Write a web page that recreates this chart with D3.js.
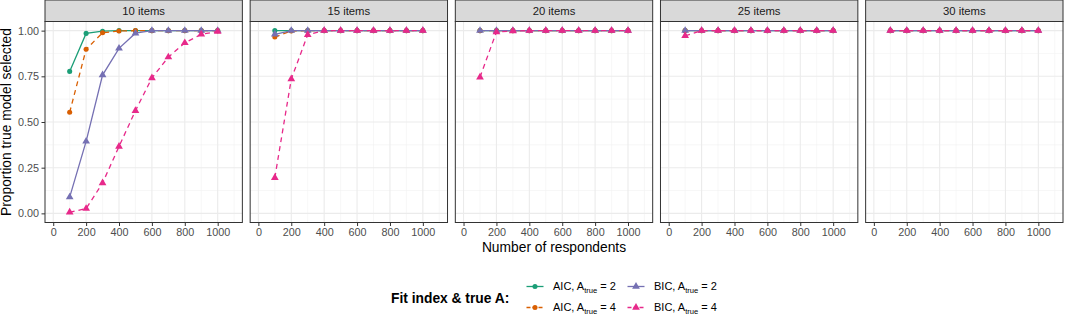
<!DOCTYPE html>
<html>
<head>
<meta charset="utf-8">
<script src="https://cdn.jsdelivr.net/npm/d3@7"></script>
<style>
  body { margin: 0; background: #fff; }
  text { font-family: "Liberation Sans", Arial, sans-serif; }
</style>
</head>
<body>
<div id="chart"></div>
<script>
// facets and x values
const itemCounts = [10, 15, 20, 25, 30];
const respondents = [100, 200, 300, 400, 500, 600, 700, 800, 900, 1000];
const xTicks = [0, 200, 400, 600, 800, 1000];
const yTicks = [0, 0.25, 0.5, 0.75, 1];

// proportion true model selected, one row per item count
const aic2 = [
  [0.777, 0.985, 0.997, 1, 1, 1, 1, 1, 1, 1],
  [1, 1, 1, 1, 1, 1, 1, 1, 1, 1],
  [1, 1, 1, 1, 1, 1, 1, 1, 1, 1],
  [1, 1, 1, 1, 1, 1, 1, 1, 1, 1],
  [1, 1, 1, 1, 1, 1, 1, 1, 1, 1]
];
const aic4 = [
  [0.553, 0.898, 0.988, 0.998, 1, 1, 1, 1, 1, 1],
  [0.965, 0.998, 1, 1, 1, 1, 1, 1, 1, 1],
  [1, 1, 1, 1, 1, 1, 1, 1, 1, 1],
  [1, 1, 1, 1, 1, 1, 1, 1, 1, 1],
  [1, 1, 1, 1, 1, 1, 1, 1, 1, 1]
];
const bic2 = [
  [0.089, 0.394, 0.757, 0.903, 0.986, 1, 1, 1, 1, 1],
  [0.98, 1, 1, 1, 1, 1, 1, 1, 1, 1],
  [1, 1, 1, 1, 1, 1, 1, 1, 1, 1],
  [1, 1, 1, 1, 1, 1, 1, 1, 1, 1],
  [1, 1, 1, 1, 1, 1, 1, 1, 1, 1]
];
const bic4 = [
  [0.006, 0.026, 0.166, 0.366, 0.562, 0.741, 0.855, 0.933, 0.98, 0.995],
  [0.195, 0.735, 0.978, 1, 1, 1, 1, 1, 1, 1],
  [0.745, 0.993, 0.998, 1, 1, 1, 1, 1, 1, 1],
  [0.972, 1, 1, 1, 1, 1, 1, 1, 1, 1],
  [1, 1, 1, 1, 1, 1, 1, 1, 1, 1]
];

const seriesNames = ['AIC', 'AIC', 'BIC', 'BIC'];
const seriesA = ['2', '4', '2', '4'];
const seriesColors = ['#1B9E77', '#D95F02', '#7570B3', '#E7298A'];
const seriesDash = [null, '5,4', null, '5,4'];
const seriesShape = ['circle', 'circle', 'triangle', 'triangle'];
const seriesValues = [aic2, aic4, bic2, bic4];

const W = 1065, H = 315;
const left = 45, right = 1063, gap = 7.8;
const stripTop = 0, stripH = 21.5, panelBottom = 222.5;
const panelW = (right - left - gap * (itemCounts.length - 1)) / itemCounts.length;

const svg = d3.select('#chart').append('svg')
  .attr('width', W).attr('height', H);

const x = d3.scaleLinear().domain([-50, 1150]).range([0, panelW]);
const y = d3.scaleLinear().domain([-0.05, 1.05]).range([panelBottom, stripH]);

const symbolFor = s => d3.symbol()
  .type(s === 'circle' ? d3.symbolCircle : d3.symbolTriangle)
  .size(s === 'circle' ? 20 : 26);

const line = d3.line().x(d => x(d[0])).y(d => y(d[1]));

itemCounts.forEach((items, pi) => {
  const g = svg.append('g')
    .attr('transform', `translate(${left + pi * (panelW + gap)},0)`);

  // background grid
  const minorX = d3.range(100, 1200, 200);
  const minorY = [0.125, 0.375, 0.625, 0.875];
  g.selectAll('.minx').data(minorX).enter().append('line')
    .attr('x1', d => x(d)).attr('x2', d => x(d))
    .attr('y1', stripH).attr('y2', panelBottom)
    .attr('stroke', '#F2F2F2').attr('stroke-width', 0.6);
  g.selectAll('.miny').data(minorY).enter().append('line')
    .attr('x1', 0).attr('x2', panelW)
    .attr('y1', d => y(d)).attr('y2', d => y(d))
    .attr('stroke', '#F2F2F2').attr('stroke-width', 0.6);
  g.selectAll('.majx').data(xTicks).enter().append('line')
    .attr('x1', d => x(d)).attr('x2', d => x(d))
    .attr('y1', stripH).attr('y2', panelBottom)
    .attr('stroke', '#EBEBEB').attr('stroke-width', 1.1);
  g.selectAll('.majy').data(yTicks).enter().append('line')
    .attr('x1', 0).attr('x2', panelW)
    .attr('y1', d => y(d)).attr('y2', d => y(d))
    .attr('stroke', '#EBEBEB').attr('stroke-width', 1.1);

  // series
  seriesValues.forEach((vals, si) => {
    const pts = respondents.map((r, i) => [r, vals[pi][i]]);
    g.append('path')
      .attr('d', line(pts))
      .attr('fill', 'none')
      .attr('stroke', seriesColors[si])
      .attr('stroke-width', 1.3)
      .attr('stroke-dasharray', seriesDash[si]);
    g.selectAll(null).data(pts).enter().append('path')
      .attr('d', symbolFor(seriesShape[si]))
      .attr('transform', d => `translate(${x(d[0])},${y(d[1])})`)
      .attr('fill', seriesColors[si]);
  });

  // panel border
  g.append('rect')
    .attr('x', 0).attr('y', stripH)
    .attr('width', panelW).attr('height', panelBottom - stripH)
    .attr('fill', 'none').attr('stroke', '#333').attr('stroke-width', 1);

  // strip
  g.append('rect')
    .attr('x', 0).attr('y', stripTop)
    .attr('width', panelW).attr('height', stripH - stripTop)
    .attr('fill', '#D9D9D9').attr('stroke', '#333').attr('stroke-width', 1);
  g.append('text')
    .attr('x', panelW / 2).attr('y', (stripTop + stripH) / 2)
    .attr('dy', '0.35em')
    .attr('text-anchor', 'middle')
    .attr('font-size', 11.3)
    .attr('fill', '#1A1A1A')
    .text(`${items} items`);

  // x axis
  const xAxis = g.append('g')
    .attr('transform', `translate(0,${panelBottom})`)
    .call(d3.axisBottom(x).tickValues(xTicks).tickSize(3.5).tickPadding(2.5).tickFormat(d3.format('d')));
  xAxis.select('.domain').remove();
  xAxis.selectAll('.tick line').attr('stroke', '#333');
  xAxis.selectAll('.tick text')
    .attr('font-size', 10.8).attr('fill', '#4D4D4D')
    .attr('font-family', '"Liberation Sans", Arial, sans-serif');

  // y axis only on first panel
  if (pi === 0) {
    const yAxis = g.append('g')
      .call(d3.axisLeft(y).tickValues(yTicks).tickSize(3.5).tickPadding(2.5).tickFormat(d3.format('.2f')));
    yAxis.select('.domain').remove();
    yAxis.selectAll('.tick line').attr('stroke', '#333');
    yAxis.selectAll('.tick text')
      .attr('font-size', 10.8).attr('fill', '#4D4D4D')
      .attr('font-family', '"Liberation Sans", Arial, sans-serif');
  }
});

// axis titles
svg.append('text')
  .attr('x', (left + right) / 2).attr('y', 252)
  .attr('text-anchor', 'middle')
  .attr('font-size', 13.8)
  .attr('fill', '#000')
  .text('Number of respondents');

svg.append('text')
  .attr('transform', `translate(11,${(stripH + panelBottom) / 2}) rotate(-90)`)
  .attr('text-anchor', 'middle')
  .attr('font-size', 13.8)
  .attr('fill', '#000')
  .text('Proportion true model selected');

// legend
const legend = svg.append('g');
legend.append('text')
  .attr('x', 391).attr('y', 298.5).attr('dy', '0.35em')
  .attr('font-size', 13.8).attr('font-weight', 'bold')
  .text('Fit index & true A:');

const keyCol = [535, 636];
const keyRow = [286.5, 307.5];
// ggplot fills legend column-wise: col 1 = AIC, col 2 = BIC
seriesNames.forEach((name, si) => {
  const cx = keyCol[Math.floor(si / 2)];
  const cy = keyRow[si % 2];
  const k = legend.append('g');
  k.append('line')
    .attr('x1', cx - 8.5).attr('x2', cx + 8.5)
    .attr('y1', cy).attr('y2', cy)
    .attr('stroke', seriesColors[si]).attr('stroke-width', 1.3)
    .attr('stroke-dasharray', seriesDash[si] ? '4,2' : null);
  k.append('path')
    .attr('d', symbolFor(seriesShape[si]))
    .attr('transform', `translate(${cx},${cy})`)
    .attr('fill', seriesColors[si]);
  const t = k.append('text')
    .attr('x', cx + 18).attr('y', cy).attr('dy', '0.35em')
    .attr('font-size', 11).attr('fill', '#000');
  t.append('tspan').text(`${name}, A`);
  t.append('tspan').attr('font-size', 7.6).attr('dy', 2.2).text('true');
  t.append('tspan').attr('dy', -2.2).text(` = ${seriesA[si]}`);
});
</script>
</body>
</html>
